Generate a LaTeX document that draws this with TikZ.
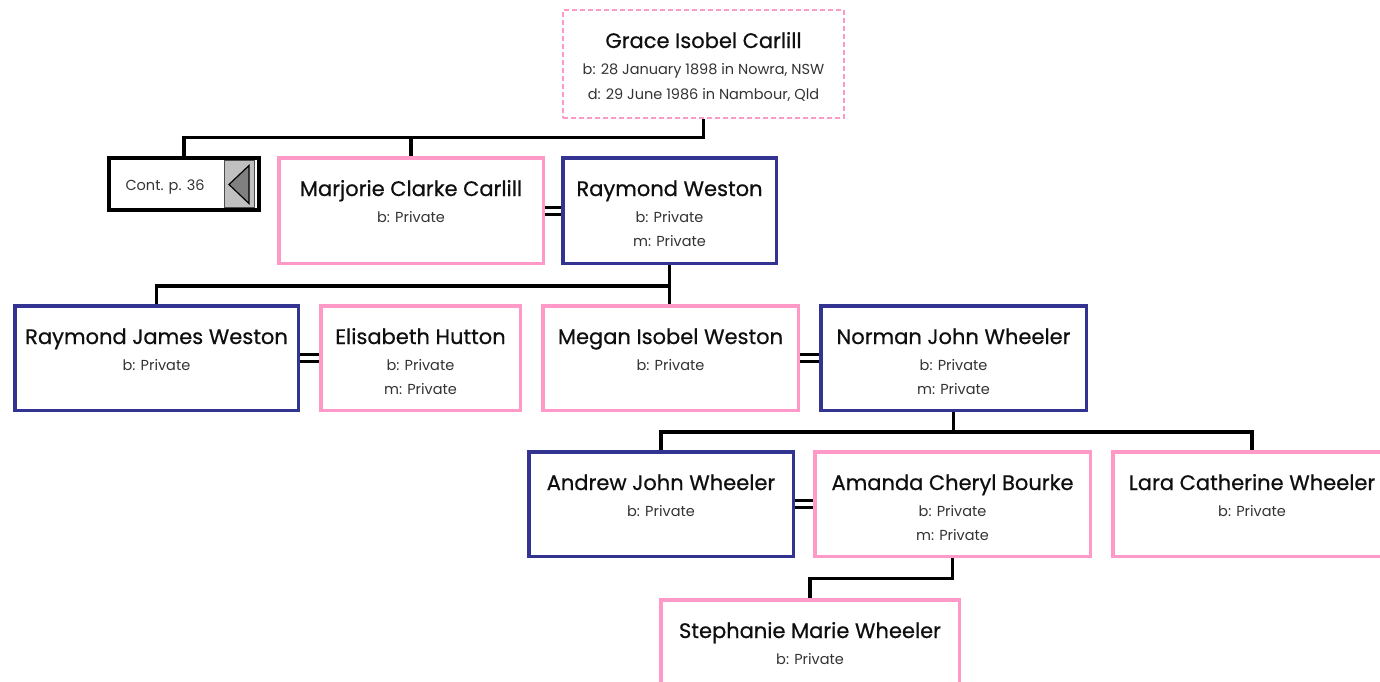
\documentclass[tikz,border=0pt]{standalone}
\usepackage{fontspec}
\setmainfont{Poppins}
\newfontfamily\namefont{Poppins}[FakeBold=0.6]
\definecolor{pinkc}{RGB}{255,153,199}
\definecolor{bluec}{RGB}{51,51,145}
\definecolor{txt}{RGB}{15,15,15}
\definecolor{graybox}{RGB}{192,192,192}
\definecolor{graytri}{RGB}{128,128,128}
\tikzset{
  box/.style={draw, line width=3.5pt, fill=white, inner sep=0pt},
  nm/.style={font=\namefont\fontsize{21}{24}\selectfont, text=txt, inner sep=0pt, anchor=base},
  dt/.style={font=\fontsize{14.5}{17}\selectfont, text=txt!85, inner sep=0pt, anchor=base},
  conn/.style={draw=black, line width=3.5pt},
  dbl/.style={draw=black, line width=3pt},
}
\newcommand\pbox[6]{\node[box,draw=#6,minimum width={#4-#2-3.5},minimum height={#5-#3-3.5},anchor=north west] (#1) at (#2,#3) {};}
\newcommand\pname[2]{\node[nm] (#1-n) at ([yshift=-40pt]#1.north) {#2};}
\newcommand\pline[3]{\node[dt] (#1-#2) at ([yshift=-#3pt]#1.north) {#2: Private};}
\begin{document}
\begin{tikzpicture}[x=1pt,y=-1pt]
\useasboundingbox (0,0) rectangle (1380,681);
\clip (0,0) rectangle (1380,681);
% Grace
\node[draw=pinkc, dash pattern=on 5pt off 3pt, line width=2pt, minimum width=281, minimum height=108, anchor=north west, inner sep=0pt] (grace) at (562,9) {};
\node[nm] (grace-n) at ([yshift=-39pt]grace.north) {Grace Isobel Carlill};
\node[dt] (grace-b) at ([yshift=-65pt]grace.north) {b: 28 January 1898 in Nowra, NSW};
\node[dt] (grace-d) at ([yshift=-90pt]grace.north) {d: 29 June 1986 in Nambour, Qld};
% row 1
\node[draw=black, line width=4pt, minimum width=150, minimum height=52, anchor=north west, inner sep=0pt, fill=white] (cont) at (107,156) {};
\node[fill=graybox, draw=black!70, line width=1pt, minimum width=30, minimum height=47, anchor=north west, inner sep=0pt] (arr) at (224,160) {};
\filldraw[fill=graytri, draw=black, line width=1.2pt, line join=miter] (229,184.5) -- (249,165.5) -- (249,203.5) -- cycle;
\node[dt, anchor=center] (cont-t) at (165,187) {Cont. p. 36};
\pbox{mar}{277}{156}{545}{265}{pinkc}
\pname{mar}{Marjorie Clarke Carlill}
\pline{mar}{b}{66}
\pbox{ray}{561}{156}{778}{265}{bluec}
\pname{ray}{Raymond Weston}
\pline{ray}{b}{66}
\pline{ray}{m}{90}
% row 2
\pbox{rjw}{13}{304}{300}{412}{bluec}
\pname{rjw}{Raymond James Weston}
\pline{rjw}{b}{66}
\pbox{eli}{319}{304}{522}{412}{pinkc}
\pname{eli}{Elisabeth Hutton}
\pline{eli}{b}{66}
\pline{eli}{m}{90}
\pbox{meg}{541}{304}{800}{412}{pinkc}
\pname{meg}{Megan Isobel Weston}
\pline{meg}{b}{66}
\pbox{nor}{819}{304}{1088}{412}{bluec}
\pname{nor}{Norman John Wheeler}
\pline{nor}{b}{66}
\pline{nor}{m}{90}
% row 3
\pbox{and}{527}{450}{795}{558}{bluec}
\pname{and}{Andrew John Wheeler}
\pline{and}{b}{66}
\pbox{ama}{813}{450}{1092}{558}{pinkc}
\pname{ama}{Amanda Cheryl Bourke}
\pline{ama}{b}{66}
\pline{ama}{m}{90}
\pbox{lar}{1111}{450}{1393}{558}{pinkc}
\pname{lar}{Lara Catherine Wheeler}
\pline{lar}{b}{66}
% row 4
\pbox{ste}{659}{598}{961}{706}{pinkc}
\pname{ste}{Stephanie Marie Wheeler}
\pline{ste}{b}{66}
% connectors
\coordinate (j1) at (grace.south |- 0,137.5);
\draw[conn] (grace.south) -- (j1) -| (cont.north);
\draw[conn] (j1) -| (mar.north);
\coordinate (j2) at (ray.south |- 0,286);
\draw[conn] (ray.south) -- (j2) -| (rjw.north);
\draw[conn] (j2) -- (j2 |- meg.north);
\coordinate (j3) at (nor.south |- 0,432);
\draw[conn] (nor.south) -- (j3) -| (and.north);
\draw[conn] (j3) -| (lar.north);
\coordinate (j4) at (ama.south |- 0,578.5);
\draw[conn] (ama.south) -- (j4) -| (ste.north);
% marriage links
\foreach \a/\b in {mar/ray, rjw/eli, meg/nor, and/ama}{
  \draw[dbl] ([yshift=3.5pt]\a.east) -- ([yshift=3.5pt]\b.west);
  \draw[dbl] ([yshift=-3.5pt]\a.east) -- ([yshift=-3.5pt]\b.west);
}
\end{tikzpicture}
\end{document}
